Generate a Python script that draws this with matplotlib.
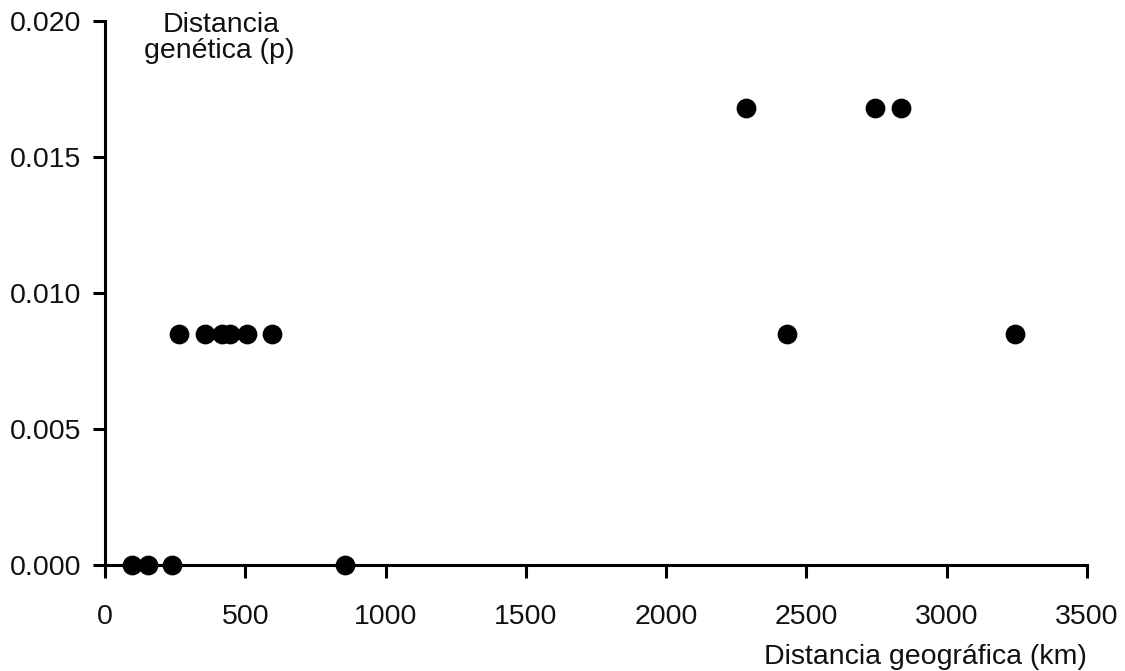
import matplotlib
matplotlib.use("Agg")
import matplotlib.pyplot as plt

plt.rcParams['font.family'] = ['Liberation Sans', 'DejaVu Sans']

geo_km = [95, 154, 238, 855,
          264, 357, 416, 446, 505, 594,
          2432, 3245,
          2285, 2745, 2838]
gen_p = [0.0, 0.0, 0.0, 0.0,
         0.0085, 0.0085, 0.0085, 0.0085, 0.0085, 0.0085,
         0.0085, 0.0085,
         0.0168, 0.0168, 0.0168]
x_ticks = [0, 500, 1000, 1500, 2000, 2500, 3000, 3500]
y_ticks = [0.000, 0.005, 0.010, 0.015, 0.020]
y_tick_labels = ["0.000", "0.005", "0.010", "0.015", "0.020"]

W, H = 1125, 671
fig = plt.figure(figsize=(W / 100, H / 100), dpi=100)
ax = fig.add_axes([105 / W, 1 - 565 / H, (1087 - 105) / W, (565 - 21) / H])

ax.scatter(geo_km, gen_p, s=175, color='black', zorder=3, clip_on=False)

ax.set_xlim(0, 3500)
ax.set_ylim(0, 0.020)
ax.set_xticks(x_ticks)
ax.set_yticks(y_ticks)
ax.set_yticklabels(y_tick_labels)

for s in ['top', 'right']:
    ax.spines[s].set_visible(False)
for s in ['left', 'bottom']:
    ax.spines[s].set_linewidth(2.2)
    ax.spines[s].set_color('black')

ax.tick_params(axis='x', direction='out', length=9, width=2.2, pad=19, labelsize=20.5,
               labelcolor='#111111')
ax.tick_params(axis='y', direction='out', length=9, width=2.2, pad=8, labelsize=20.5,
               labelcolor='#111111')

fig.text(221 / W, 1 - 32 / H, "Distancia", ha='center', va='baseline', fontsize=20.5,
         color='#111111')
fig.text(219 / W, 1 - 58 / H, "genética (p)", ha='center', va='baseline', fontsize=20.5,
         color='#111111')
fig.text(1087 / W, 7 / H, "Distancia geográfica (km)", ha='right', va='baseline',
         fontsize=20.5, color='#111111')

fig.savefig("out.png", dpi=100)
